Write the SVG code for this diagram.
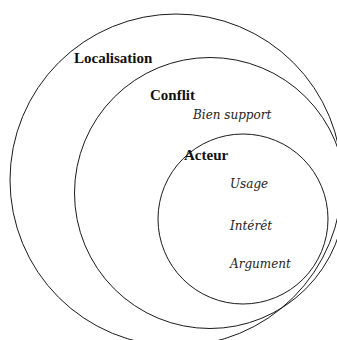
<svg xmlns="http://www.w3.org/2000/svg" width="337" height="340" viewBox="0 0 337 340">
<style>
.ring{fill:none;stroke:#1a1a1a;stroke-width:1}
.title{font-family:"Liberation Serif","Times New Roman",serif;font-weight:bold;font-size:15px;fill:#111}
.item{font-family:"DejaVu Serif","Liberation Serif",serif;font-style:italic;font-size:12px;fill:#222}
</style>
<rect width="337" height="340" fill="#fff"/>
<g id="localisation">
<circle class="ring" cx="176" cy="180" r="166"/>
<text class="title" x="74" y="63">Localisation</text>
</g>
<g id="conflit">
<circle class="ring" cx="210" cy="193" r="135.5"/>
<text class="title" x="150" y="100">Conflit</text>
<text class="item" x="193" y="119">Bien support</text>
</g>
<g id="acteur">
<circle class="ring" cx="243" cy="219" r="85"/>
<text class="title" x="184" y="160">Acteur</text>
<text class="item" x="230" y="188">Usage</text>
<text class="item" x="230" y="230">Intérêt</text>
<text class="item" x="230" y="268">Argument</text>
</g>
<g id="connectors"/>
</svg>
